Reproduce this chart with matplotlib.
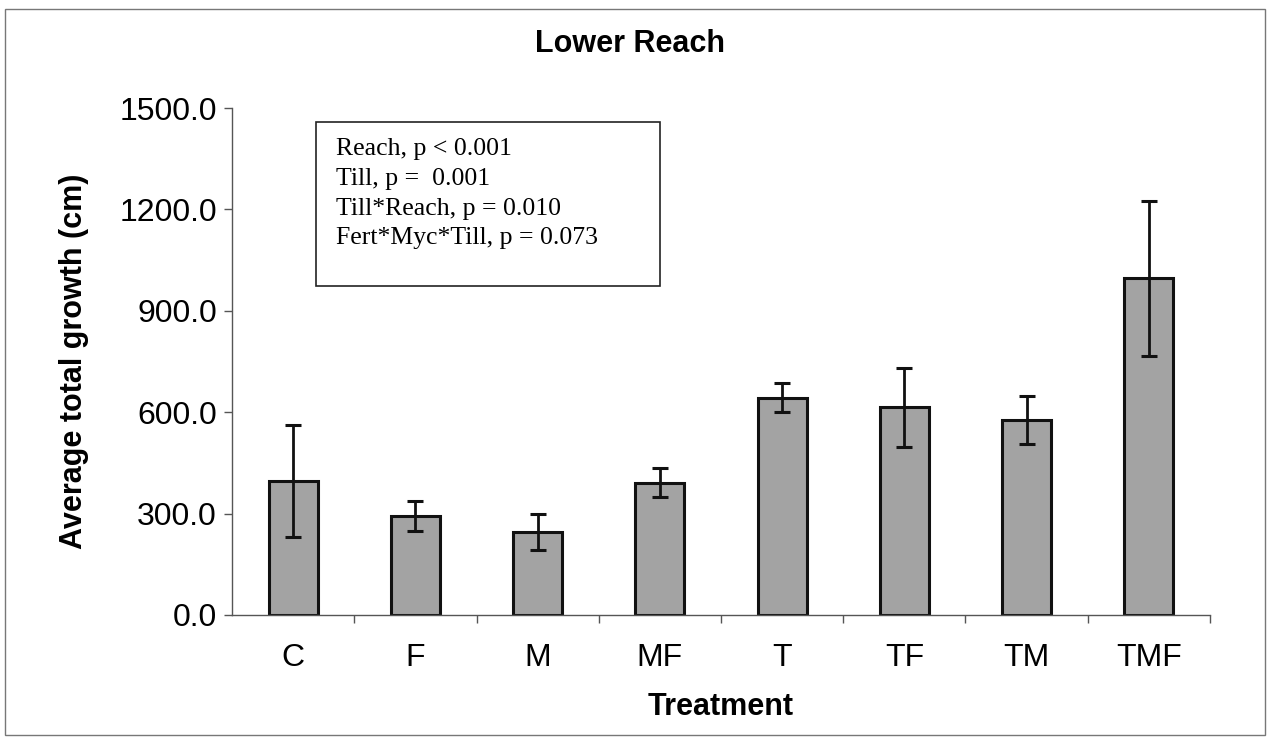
import numpy as np
import matplotlib
matplotlib.use("Agg")
import matplotlib.pyplot as plt
from matplotlib.patches import Rectangle
from matplotlib.ticker import FuncFormatter, FixedLocator

plt.rcParams["font.family"] = ["Liberation Sans", "DejaVu Sans"]

# values
treatments = ["C", "F", "M", "MF", "T", "TF", "TM", "TMF"]
growth = [396, 293, 245, 392, 643, 614, 576, 996]
growth_err = [165, 44, 53, 42, 43, 116, 71, 229]

stats_lines = [
    "Reach, p < 0.001",
    "Till, p =  0.001",
    "Till*Reach, p = 0.010",
    "Fert*Myc*Till, p = 0.073",
]


def main() -> None:
    fig = plt.figure(figsize=(12.7, 7.39), dpi=100)
    ax = fig.add_axes([0.1827, 0.1678, 0.770, 0.686])

    x = np.arange(len(treatments))
    ax.bar(x, growth, width=0.4, color="#a3a3a3", edgecolor="#111111",
           linewidth=2.2, zorder=2)
    ax.errorbar(x, growth, yerr=growth_err, fmt="none", ecolor="#111111",
                elinewidth=2.0, capsize=6, capthick=2.2, zorder=3)

    ax.set_xlim(-0.5, len(treatments) - 0.5)
    ax.set_ylim(0, 1500)
    ax.set_yticks(np.arange(0, 1501, 300))
    ax.yaxis.set_major_formatter(FuncFormatter(lambda v, _: f"{v:.1f}"))

    ax.set_xticks(x)
    ax.set_xticklabels(treatments)
    ax.xaxis.set_minor_locator(FixedLocator(np.arange(0.5, len(treatments), 1.0)))

    for side in ["top", "right"]:
        ax.spines[side].set_visible(False)
    for side in ["left", "bottom"]:
        ax.spines[side].set_color("#555555")
        ax.spines[side].set_linewidth(1.0)

    ax.tick_params(axis="x", which="major", length=0, pad=20, labelsize=23)
    ax.tick_params(axis="x", which="minor", length=6, width=1.0,
                   color="#555555", direction="out")
    ax.tick_params(axis="y", length=6, width=1.0, color="#555555",
                   pad=5, labelsize=23, direction="out")

    ax.set_ylabel("Average total growth (cm)", fontsize=22, fontweight="bold",
                  labelpad=22)
    ax.set_xlabel("Treatment", fontsize=22, fontweight="bold", labelpad=14)

    fig.text(0.496, 0.941, "Lower Reach", ha="center", va="center",
             fontsize=22, fontweight="bold")

    # stats box
    ax.add_patch(Rectangle((0.086, 0.649), 0.352, 0.323, transform=ax.transAxes,
                           fill=False, edgecolor="#222222", linewidth=1.2,
                           zorder=4))
    ax.text(0.106, 0.94, "\n".join(stats_lines), transform=ax.transAxes,
            ha="left", va="top", fontsize=18.5, linespacing=1.45,
            family=["Liberation Serif", "DejaVu Serif"], zorder=5)

    # outer frame of the chart area
    fig.patches.append(Rectangle((0.004, 0.006), 0.992, 0.982,
                                 transform=fig.transFigure, fill=False,
                                 edgecolor="#777777", linewidth=1.0))

    fig.savefig("out.png", dpi=100)


if __name__ == "__main__":
    main()
